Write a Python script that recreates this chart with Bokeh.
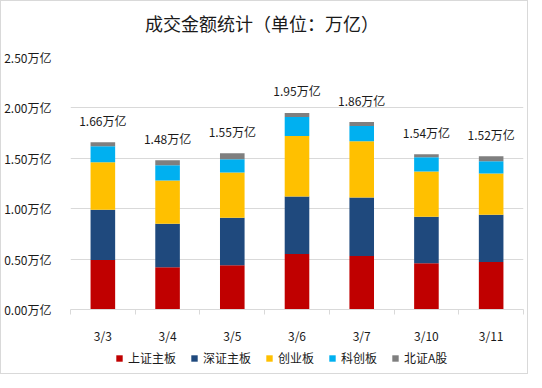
import numpy as np
from bokeh.plotting import figure
from bokeh.layouts import column
from bokeh.models import (ColumnDataSource, Range1d, FixedTicker, Legend, LegendItem, Label)
from bokeh.core.properties import value
from bokeh.embed import file_html
from bokeh.resources import INLINE

# ---- data ----
dates = ["3/3", "3/4", "3/5", "3/6", "3/7", "3/10", "3/11"]
series = ["上证主板", "深证主板", "创业板", "科创板", "北证A股"]
sh_main = [0.49, 0.42, 0.44, 0.55, 0.53, 0.46, 0.47]
sz_main = [0.50, 0.43, 0.47, 0.57, 0.58, 0.46, 0.47]
chinext = [0.47, 0.43, 0.45, 0.60, 0.56, 0.45, 0.41]
star = [0.16, 0.15, 0.13, 0.19, 0.15, 0.14, 0.12]
bse = [0.04, 0.05, 0.06, 0.04, 0.04, 0.03, 0.05]
totals = [1.66, 1.48, 1.55, 1.95, 1.86, 1.54, 1.52]
y_ticks = [0.0, 0.5, 1.0, 1.5, 2.0, 2.5]
y_tick_labels = ["0.00万亿", "0.50万亿", "1.00万亿", "1.50万亿", "2.00万亿", "2.50万亿"]
title_text = "成交金额统计（单位：万亿）"
colors = ["#C00000", "#1F497D", "#FFC000", "#00B0F0", "#7F7F7F"]

FONT = "Noto Sans CJK SC"
TXT = "#1a1a1a"
GRID = "#D9D9D9"

n = len(dates)
xs = list(np.arange(n) + 0.5)
cols = ["s0", "s1", "s2", "s3", "s4"]
src = ColumnDataSource(dict(x=xs, s0=sh_main, s1=sz_main, s2=chinext, s3=star, s4=bse,
                            tot=totals, lab=[f"{t:.2f}万亿" for t in totals]))


def strip(height):
    f = figure(width=526, height=height, output_backend="svg", toolbar_location=None,
               x_range=Range1d(0, n), y_range=Range1d(0, 1),
               min_border_left=60, min_border_right=4, min_border_top=0, min_border_bottom=0,
               x_axis_location=None, y_axis_location=None)
    f.outline_line_color = None
    f.grid.grid_line_color = None
    f.background_fill_color = "white"
    f.border_fill_color = "white"
    return f


# ---- title strip ----
top = strip(42)
top.add_layout(Label(x=n / 2, y=0.5, x_offset=-35, text=title_text,
                     text_align="center", text_baseline="middle",
                     text_font=FONT, text_font_size="18px", text_color=TXT))

# ---- main chart ----
p = figure(width=526, height=303, output_backend="svg", toolbar_location=None,
           x_range=Range1d(0, n), y_range=Range1d(0, 2.5),
           min_border_left=60, min_border_right=4, min_border_top=14, min_border_bottom=32)
p.outline_line_color = None
p.background_fill_color = "white"
p.border_fill_color = "white"

p.vbar_stack(cols, x="x", width=0.38, source=src, color=colors, line_color=None)

p.text(x="x", y="tot", text="lab", source=src, y_offset=-22,
       text_align="center", text_baseline="middle",
       text_font=value(FONT), text_font_size="12px", text_color=TXT)

xa = p.xaxis[0]
xa.ticker = FixedTicker(ticks=xs, minor_ticks=list(range(n + 1)))
xa.major_label_overrides = {float(x): d for x, d in zip(xs, dates)}
xa.major_tick_out = 0
xa.major_tick_in = 0
xa.minor_tick_out = 5
xa.minor_tick_in = 0
xa.minor_tick_line_color = GRID
xa.axis_line_color = GRID
xa.major_label_standoff = 12
xa.major_label_text_font = FONT
xa.major_label_text_font_size = "12px"
xa.major_label_text_color = TXT

ya = p.yaxis[0]
ya.ticker = FixedTicker(ticks=y_ticks)
ya.major_label_overrides = {t: l for t, l in zip(y_ticks, y_tick_labels)}
ya.axis_line_color = None
ya.major_tick_line_color = None
ya.minor_tick_line_color = None
ya.major_label_standoff = 13
ya.major_label_text_font = FONT
ya.major_label_text_font_size = "12px"
ya.major_label_text_color = TXT

p.xgrid.grid_line_color = None
p.ygrid.grid_line_color = GRID
p.ygrid.ticker = FixedTicker(ticks=y_ticks)

# ---- legend strip ----
lg = strip(27)
lg_renderers = lg.vbar_stack(cols, x="x", width=0.38, source=src, color=colors,
                             line_color=None, visible=False)
legend = Legend(items=[LegendItem(label=s, renderers=[r]) for s, r in zip(series, lg_renderers)],
                orientation="horizontal", location=(45, 7),
                glyph_width=8, glyph_height=8, label_standoff=5, spacing=14,
                label_height=14, padding=0, margin=0,
                inactive_fill_alpha=0,
                border_line_color=None, background_fill_alpha=0,
                label_text_font=FONT, label_text_font_size="12px", label_text_color=TXT)
lg.add_layout(legend, "center")

layout = column(top, p, lg, spacing=0, styles={"border": "1px solid #D9D9D9"})
open("out.html", "w").write(file_html(layout, INLINE))
